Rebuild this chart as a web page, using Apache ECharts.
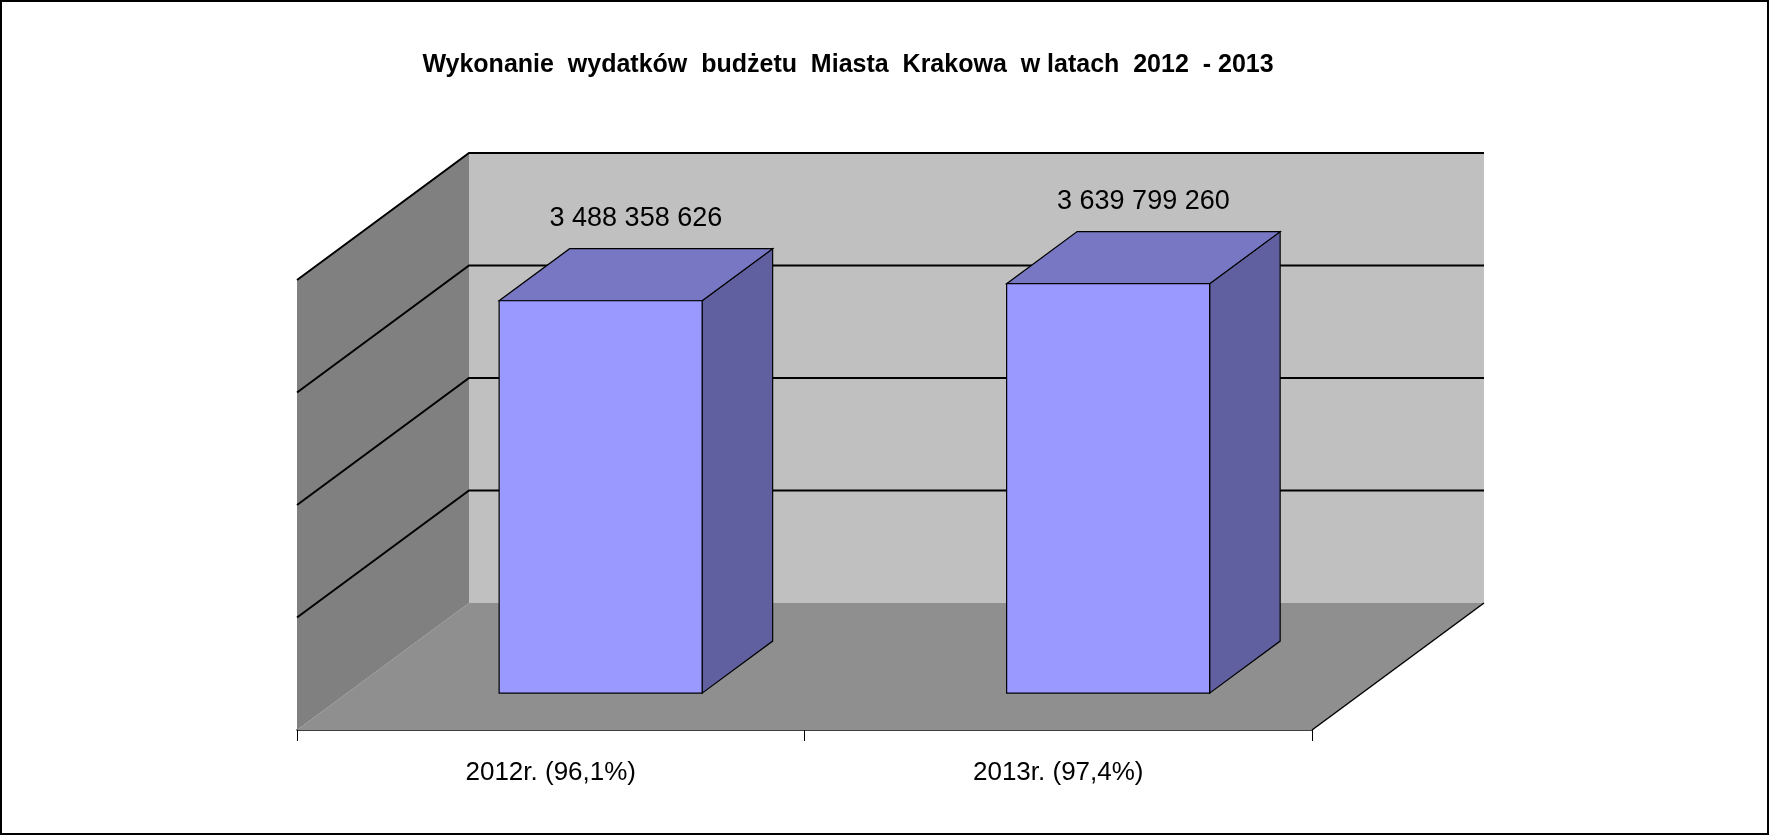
<!DOCTYPE html>
<html><head><meta charset="utf-8">
<script src="https://cdn.jsdelivr.net/npm/echarts@6/dist/echarts.min.js"></script>
<style>html,body{margin:0;padding:0;background:#fff}#c{width:1770px;height:836px}</style>
</head><body><div id="c"></div>
<script>
const title = 'Wykonanie  wydatków  budżetu  Miasta  Krakowa  w latach  2012  - 2013';
const categories = ['2012r. (96,1%)', '2013r. (97,4%)'];
const values = [3488358626, 3639799260];
const gridTicks = [0, 1000000000, 2000000000, 3000000000, 4000000000];

const DX = 172, DY = -127;      // depth offset of the 3D box
const D0 = 0.29, D1 = 0.70;     // bar depth position
const BAR = 0.4;                // bar width share of band

function fmt(v){ return String(v).replace(/\B(?=(\d{3})+(?!\d))/g, ' '); }

const chart = echarts.init(document.getElementById('c'));
chart.setOption({
  animation: false,
  backgroundColor: '#fff',
  title: { text: title, left: 843, top: 48, textAlign: 'center',
    textStyle: { fontFamily: 'Liberation Sans, Arial', fontWeight: 'bold', fontSize: 25, color: '#000' } },
  graphic: [{ type: 'rect', shape: { x: 1, y: 1, width: 1767, height: 833 },
    style: { fill: 'none', stroke: '#000', lineWidth: 2 } }],
  grid: { left: 297, right: 458, top: 280, bottom: 106 },
  xAxis: { type: 'category', data: categories,
    axisLine: { lineStyle: { color: '#000', width: 1.5 } },
    axisTick: { show: true, length: 11, lineStyle: { color: '#000' } },
    axisLabel: { fontFamily: 'Liberation Sans, Arial', fontSize: 26, color: '#000', margin: 30 } },
  yAxis: { type: 'value', min: 0, max: 4000000000, interval: 1000000000, show: false, splitLine: { show: false } },
  series: [
    { type: 'custom', data: [0], z: 1, silent: true,
      renderItem(params, api) {
        const cs = params.coordSys;
        const x = cs.x, w = cs.width;
        const y0 = api.coord([0, 0])[1];
        const yt = api.coord([0, gridTicks[gridTicks.length - 1]])[1];
        const ch = [
          { type: 'polygon', shape: { points: [[x, y0], [x + w, y0], [x + w + DX, y0 + DY], [x + DX, y0 + DY]] },
            style: { fill: '#8f8f8f' } },
          { type: 'polygon', shape: { points: [[x, y0], [x, yt], [x + DX, yt + DY], [x + DX, y0 + DY]] },
            style: { fill: '#808080' } },
          { type: 'rect', shape: { x: x + DX, y: yt + DY, width: w, height: y0 - yt },
            style: { fill: '#c0c0c0' } }
        ];
        gridTicks.forEach((v, i) => {
          if (i === 0) return;
          const y = api.coord([0, v])[1];
          ch.push({ type: 'polyline', shape: { points: [[x, y], [x + DX, y + DY], [x + w + DX, y + DY]] },
            style: { fill: 'none', stroke: '#000', lineWidth: 2 } });
        });
        ch.push({ type: 'line', shape: { x1: x + w, y1: y0, x2: x + w + DX, y2: y0 + DY },
          style: { stroke: '#000', lineWidth: 1.5 } });
        return { type: 'group', children: ch };
      } },
    { type: 'custom', data: values.map((v, i) => [i, v]), z: 2,
      renderItem(params, api) {
        const i = api.value(0), v = api.value(1);
        const p = api.coord([i, v]), b = api.coord([i, 0]);
        const bw = api.size([1, 0])[0] * BAR;
        const xl = p[0] - bw / 2 + D0 * DX, xr = xl + bw;
        const yt = p[1] + D0 * DY, yb = b[1] + D0 * DY;
        const ox = (D1 - D0) * DX, oy = (D1 - D0) * DY;
        const st = { stroke: '#000', lineWidth: 1.2 };
        return { type: 'group', children: [
          { type: 'polygon', shape: { points: [[xr, yt], [xr + ox, yt + oy], [xr + ox, yb + oy], [xr, yb]] },
            style: Object.assign({ fill: '#6060a0' }, st) },
          { type: 'polygon', shape: { points: [[xl, yt], [xr, yt], [xr + ox, yt + oy], [xl + ox, yt + oy]] },
            style: Object.assign({ fill: '#7777c4' }, st) },
          { type: 'rect', shape: { x: xl, y: yt, width: bw, height: yb - yt },
            style: Object.assign({ fill: '#9999ff' }, st) },
          { type: 'text', x: p[0] + (D0 + D1) / 2 * DX, y: yt + oy - 30,
            style: { text: fmt(v), fontFamily: 'Liberation Sans, Arial', fontSize: 27, fill: '#000',
              align: 'center', verticalAlign: 'middle' } }
        ] };
      } }
  ]
});
</script></body></html>
